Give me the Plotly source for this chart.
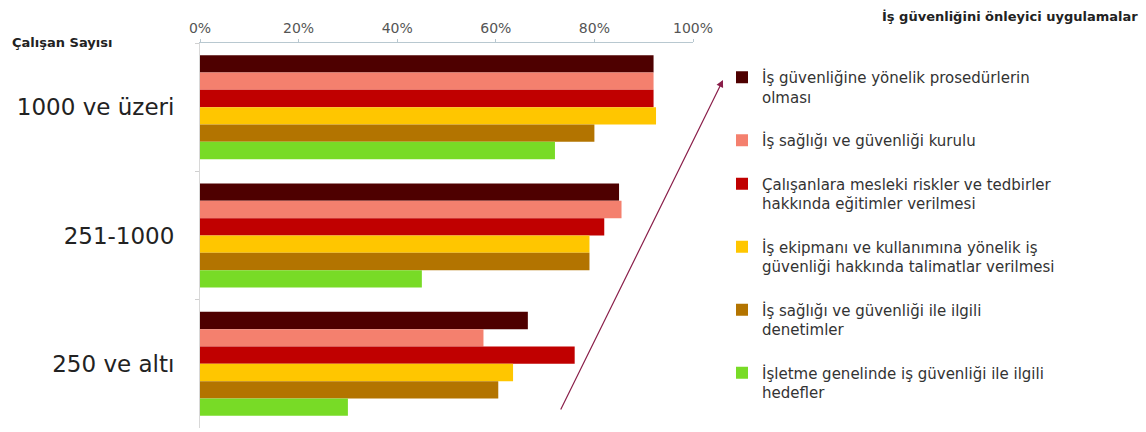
import plotly.graph_objects as go

categories = ["1000 ve üzeri", "251-1000", "250 ve altı"]

series_names = [
    "İş güvenliğine yönelik prosedürlerin<br>olması",
    "İş sağlığı ve güvenliği kurulu",
    "Çalışanlara mesleki riskler ve tedbirler<br>hakkında eğitimler verilmesi",
    "İş ekipmanı ve kullanımına yönelik iş<br>güvenliği hakkında talimatlar verilmesi",
    "İş sağlığı ve güvenliği ile ilgili<br>denetimler",
    "İşletme genelinde iş güvenliği ile ilgili<br>hedefler",
]

prosedur = [0.92, 0.85, 0.665]
kurul = [0.92, 0.855, 0.575]
egitim = [0.92, 0.82, 0.76]
talimat = [0.925, 0.79, 0.635]
denetim = [0.80, 0.79, 0.605]
hedef = [0.72, 0.45, 0.30]

series_values = [prosedur, kurul, egitim, talimat, denetim, hedef]
colors = ["#4E0000", "#F4806E", "#C00000", "#FFC600", "#B37400", "#78DB26"]

tick_vals = [0, 0.2, 0.4, 0.6, 0.8, 1.0]
tick_text = ["0%", "20%", "40%", "60%", "80%", "100%"]

W, H = 1146, 432
ML, MR, MT, MB = 200, 453, 43, 4

fig = go.Figure()
for name, vals, col in zip(series_names, series_values, colors):
    fig.add_trace(go.Bar(
        y=categories, x=vals, name=name, orientation="h",
        marker=dict(color=col, line=dict(width=0)),
        legendgroup=name,
    ))

fig.update_layout(
    width=W, height=H,
    margin=dict(l=ML, r=MR, t=MT, b=MB, pad=0),
    paper_bgcolor="white", plot_bgcolor="white",
    barmode="group", bargap=0.19, bargroupgap=0,
    font=dict(family="DejaVu Sans", color="#333333"),
    showlegend=True,
    legend=dict(
        xref="container", yref="container",
        x=(722) / W, y=1 - 61 / H, xanchor="left", yanchor="top",
        font=dict(family="DejaVu Sans", size=15, color="#333333"),
        valign="top", tracegroupgap=21, traceorder="grouped",
        bgcolor="rgba(0,0,0,0)", maxheight=400,
    ),
    xaxis=dict(
        side="top", range=[0, 1], tickvals=tick_vals, ticktext=tick_text,
        showgrid=False, zeroline=False, showline=True, linecolor="#B8C8D0",
        ticks="outside", ticklen=3, tickcolor="#B8C8D0",
        tickfont=dict(family="DejaVu Sans", size=14, color="#555555"),
        fixedrange=True,
    ),
    yaxis=dict(
        autorange="reversed", showgrid=False, zeroline=False,
        showline=True, linecolor="#D8D8D8",
        ticks="outside", ticklen=4, tickcolor="#D0D0D0", tickson="boundaries",
        tickfont=dict(family="DejaVu Sans", size=23, color="#222222"),
        ticklabelstandoff=20,
        fixedrange=True,
    ),
    annotations=[
        dict(text="<b>Çalışan Sayısı</b>", xref="paper", yref="paper",
             x=-(ML - 10) / (W - ML - MR), y=1 + 1 / (H - MT - MB),
             xanchor="left", yanchor="middle", showarrow=False,
             font=dict(family="DejaVu Sans", size=13, color="#222222")),
        dict(text="<b>İş güvenliğini önleyici uygulamalar</b>", xref="paper", yref="paper",
             x=(1140 - ML) / (W - ML - MR), y=1 + (MT - 17) / (H - MT - MB),
             xanchor="right", yanchor="middle", showarrow=False,
             font=dict(family="DejaVu Sans", size=13, color="#222222")),
        dict(text="", xref="paper", yref="paper",
             x=(723 - ML) / (W - ML - MR), y=(H - MB - 80) / (H - MT - MB),
             ax=560 - 723, ay=411 - 80, showarrow=True,
             arrowhead=2, arrowsize=1.2, arrowwidth=1.2, arrowcolor="#8A1F4A"),
    ],
)

fig.write_html("out.html")
